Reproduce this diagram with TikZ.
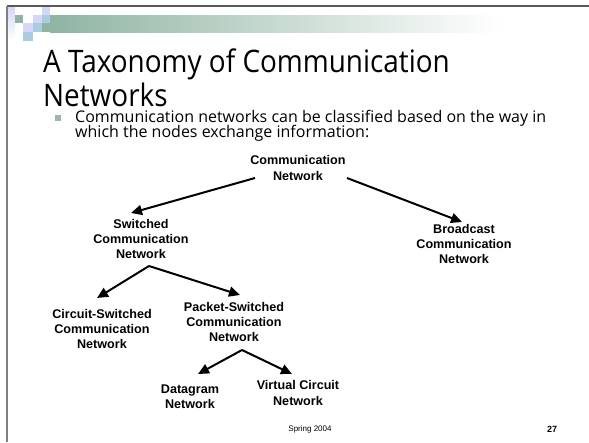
\documentclass[tikz,border=0pt]{standalone}
\usepackage{fontspec}
\setmainfont{Liberation Sans}
\newfontfamily\titlefont{Open Sans}
\usetikzlibrary{arrows.meta,calc}
\definecolor{bandgreen}{HTML}{8FB4A2}
\definecolor{lav}{HTML}{D6D6F6}
\definecolor{lblue}{HTML}{A9CCE0}
\definecolor{bulletc}{HTML}{9DB8AA}
\tikzset{
  tnode/.style={font=\fontsize{12.6}{15.3}\selectfont\bfseries, align=center, inner sep=0pt},
  conn/.style={line width=2pt, -{Triangle[length=11pt,width=10pt]}},
  sq/.style={draw=none}
}
\begin{document}
\begin{tikzpicture}[x=1pt,y=-1pt]
\useasboundingbox (0,0) rectangle (589,442);
\fill[white] (0,0) rectangle (589,442);
% decoration band
\shade[left color=bandgreen, right color=white, shading angle=90] (50,15) rectangle (500,32);
\fill[bandgreen] (42,23) rectangle (50,32);
\shade[top color=lav, bottom color=white] (7,7) rectangle (15,40);
\fill[bandgreen] (15,15) rectangle (23,23);
\fill[lav] (23,23) rectangle (33,32);
\fill[lblue] (23,32) rectangle (33,41);
\fill[lav] (33,15) rectangle (42,23);
\fill[lblue] (33,23) rectangle (42,32);
\fill[lav] (42,7) rectangle (50,15);
\fill[lblue] (42,15) rectangle (50,23);
% frame lines
\draw[line width=1.5pt, color=black!65] (7,6) -- (589,6);
\draw[line width=2pt, color=black!50] (7,6) -- (7,442);
% title
\node[anchor=base west, inner sep=0pt] (t1) at (43,72) {\scalebox{0.9}[1]{\titlefont\fontsize{31}{34}\selectfont A Taxonomy of Communication}};
\node[anchor=base west, inner sep=0pt] (t2) at (43,106) {\scalebox{0.9}[1]{\titlefont\fontsize{31}{34}\selectfont Networks}};
% bullet
\fill[bulletc] (55,115) rectangle (61,121);
\node[anchor=base west, inner sep=0pt] (b1) at (75,122) {\titlefont\fontsize{16}{16}\selectfont Communication networks can be classified based on the way in};
\node[anchor=base west, inner sep=0pt] (b2) at (75,137.5) {\titlefont\fontsize{16}{16}\selectfont which the nodes exchange information:};
% nodes
\node[tnode] (root) at (298,168) {Communication\\Network};
\node[tnode] (sw) at (141,239) {Switched\\Communication\\Network};
\node[tnode] (bc) at (464,244) {Broadcast\\Communication\\Network};
\node[tnode] (cs) at (102,329) {Circuit-Switched\\Communication\\Network};
\node[tnode] (ps) at (234,322) {Packet-Switched\\Communication\\Network};
\node[tnode] (dg) at (190,397) {Datagram\\Network};
\node[tnode] (vc) at (298,393) {Virtual Circuit\\Network};
% connector ends
\coordinate (rootL) at (255,178);
\coordinate (rootR) at (347,178);
\coordinate (swTop) at (131,213);
\coordinate (bcTop) at (462,222);
\coordinate (swBot) at (149,266);
\coordinate (csTop) at (97,298);
\coordinate (psTop) at (240,295);
\coordinate (psBot) at (242,350);
\coordinate (dgTop) at (198,374);
\coordinate (vcTop) at (292,374);
\draw[conn] (rootL) -- (swTop);
\draw[conn] (rootR) -- (bcTop);
\draw[conn] (swBot) -- (csTop);
\draw[conn] (swBot) -- (psTop);
\draw[conn] (psBot) -- (dgTop);
\draw[conn] (psBot) -- (vcTop);
% footer
\node[font=\fontsize{8}{9}\selectfont, inner sep=0pt] (foot) at (310,429) {Spring 2004};
\node[font=\fontsize{9}{10}\selectfont\bfseries, inner sep=0pt] (pg) at (552,429) {27};
\end{tikzpicture}
\end{document}
